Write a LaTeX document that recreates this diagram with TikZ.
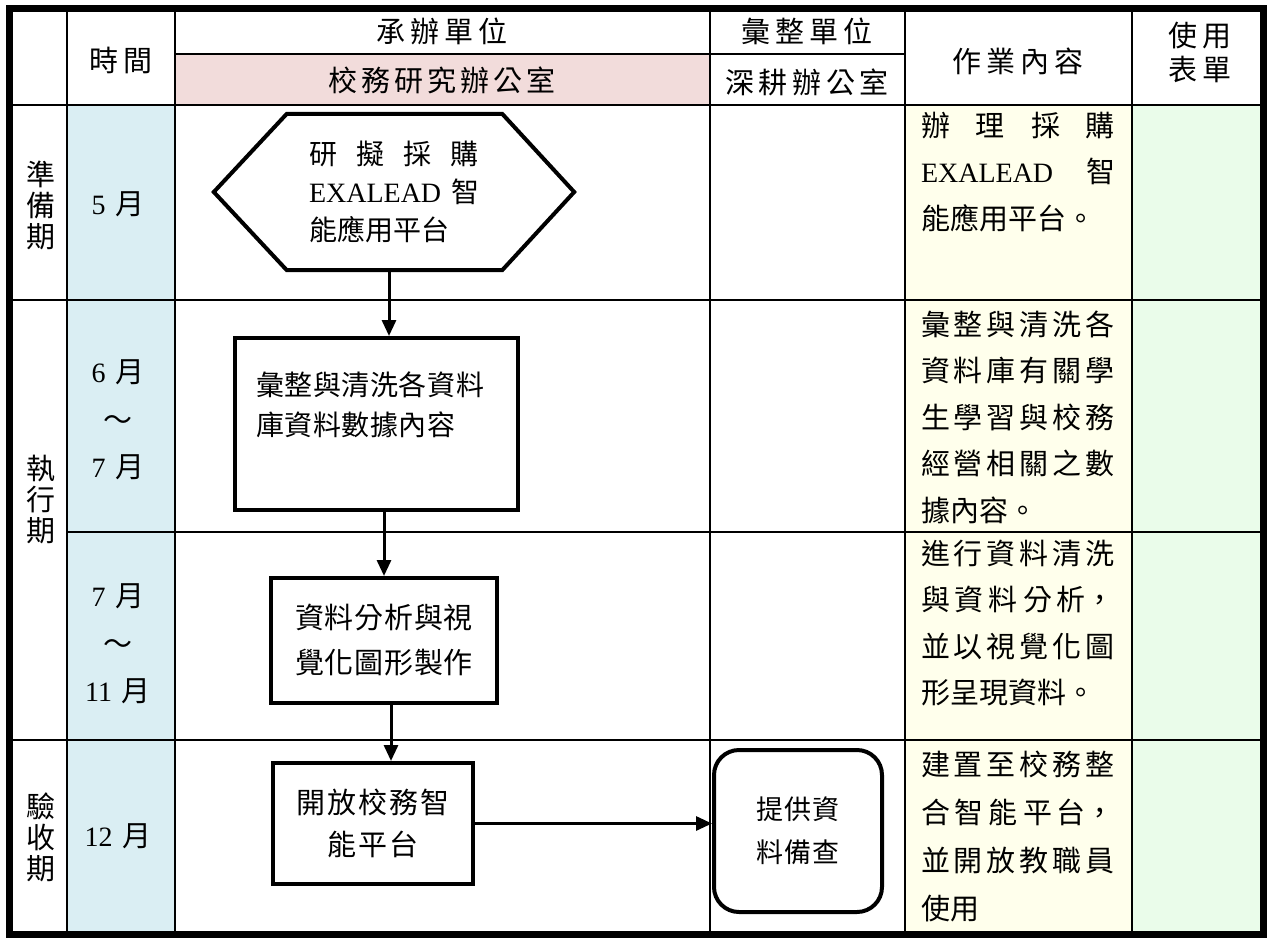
\documentclass[tikz,border=0pt]{standalone}
\usepackage{fontspec}
\setmainfont{Noto Sans CJK TC}
\newfontfamily\enfont{Liberation Serif}
\usetikzlibrary{arrows.meta}
\XeTeXlinebreaklocale "zh"
\XeTeXlinebreakskip=0pt plus 1pt
\definecolor{HeadPink}{RGB}{242,220,219}
\definecolor{TimeBlue}{RGB}{218,238,243}
\definecolor{NoteYellow}{RGB}{255,255,236}
\definecolor{FormGreen}{RGB}{234,252,234}
\newcommand\en[1]{{\enfont\fontsize{28}{30}\selectfont #1}}
\newcommand\exa{{\enfont\fontsize{28}{30}\selectfont EXALEAD}}
\newcommand\cellfont[1]{\fontsize{29}{#1}\selectfont}
\tikzset{
  gridline/.style={line width=2.5pt},
  headtext/.style={font={\cellfont{34}\XeTeXlinebreakskip=3.5pt plus 1pt},
    text width=300pt, align=center, inner sep=0pt},
  phasetext/.style={font=\cellfont{31}, text width=34pt, align=center, inner sep=0pt},
  timetext/.style={font=\cellfont{47.5}, text width=80pt, align=center, inner sep=0pt},
  notetext/.style={font=\cellfont{46.5}, text width=194pt, align=justify, inner sep=0pt},
  flowline/.style={line width=4pt, line join=miter},
  hexbox/.style={minimum width=360pt, minimum height=156pt, inner sep=0pt,
    text width=170pt, align=justify, font={\fontsize{28}{38}\selectfont}},
  flowbox/.style={draw, line width=4pt, inner sep=0pt,
    font={\cellfont{45}\XeTeXlinebreakskip=0.5pt plus 1pt}},
  flowarrow/.style={line width=3pt, -{Triangle[length=16pt,width=14pt]}}
}
\begin{document}
\begin{tikzpicture}[x=1pt,y=-1pt]
\useasboundingbox (0,0) rectangle (1267,938);
% shading of the cells
\fill[HeadPink] (175,54) rectangle (710,105);
\fill[TimeBlue] (67,105) rectangle (175,935);
\fill[NoteYellow] (905,105) rectangle (1132,935);
\fill[FormGreen] (1132,105) rectangle (1262,935);
% table rules
\draw[gridline] (175,54) -- (905,54);
\foreach \y in {105,300,740}
  \draw[gridline] (9,\y) -- (1262,\y);
\draw[gridline] (67,532) -- (1262,532);
\foreach \x in {67,175,710,905,1132}
  \draw[gridline] (\x,8) -- (\x,935);
\draw[line width=7pt] (9.5,8.5) rectangle (1263,934.5);

% header
\node[headtext] (hdtime) at (121,60) {時間};
\node[headtext] (hdowner) at (442,31) {承辦單位};
\node[headtext] (hdoffice) at (442,80) {校務研究辦公室};
\node[headtext] (hdcollect) at (807,31) {彙整單位};
\node[headtext] (hdsprout) at (807,82) {深耕辦公室};
\node[headtext] (hdtask) at (1018,61) {作業內容};
\node[headtext] (hdform) at (1200,52) {使用\\表單};

% phases and months
\node[phasetext] (phprep) at (41,205) {準\\備\\期};
\node[phasetext] (phexec) at (41,500) {執\\行\\期};
\node[phasetext] (phcheck) at (41,837) {驗\\收\\期};
\node[timetext] (tmmay) at (118,204) {\en{5} 月};
\node[timetext] (tmjun) at (118,420) {\en{6} 月\\～\\\en{7} 月};
\node[timetext] (tmjul) at (118,644) {\en{7} 月\\～\\\en{11} 月};
\node[timetext] (tmdec) at (118,836) {\en{12} 月};

% task descriptions
\node[notetext] (ntprep) at (1018,172) {辦理採購\linebreak \exa{} 智\linebreak 能應用平台。};
\node[notetext] (ntexec) at (1018,417) {彙整與清洗各\linebreak 資料庫有關學\linebreak 生學習與校務\linebreak 經營相關之數\linebreak 據內容。};
\node[notetext] (ntanal) at (1018,623) {進行資料清洗\linebreak 與資料分析，\linebreak 並以視覺化圖\linebreak 形呈現資料。};
\node[notetext, font=\cellfont{48}] (ntcheck) at (1018,836) {建置至校務整\linebreak 合智能平台，\linebreak 並開放教職員\linebreak 使用};

% flow
\node[hexbox] (hex) at (394,192) {研擬採購\linebreak \exa{} 智\linebreak 能應用平台};
\draw[flowline] (hex.west) -- ([xshift=73pt]hex.north west) -- ([xshift=-72pt]hex.north east)
  -- (hex.east) -- ([xshift=-72pt]hex.south east) -- ([xshift=73pt]hex.south west) -- cycle;
\node[flowbox, minimum width=283pt, minimum height=172pt, text width=240pt, align=left,
  font={\fontsize{28}{40}\selectfont\XeTeXlinebreakskip=0.5pt plus 1pt}] (clean) at (376.5,424)
  {彙整與清洗各資料\\庫資料數據內容\\\mbox{}};
\node[flowbox, minimum width=226pt, minimum height=125pt, text width=200pt, align=center]
  (analyse) at (384,640.5) {資料分析與視\\覺化圖形製作};
\node[flowbox, minimum width=200pt, minimum height=121pt, text width=180pt, align=center,
  font={\cellfont{42}\XeTeXlinebreakskip=1.6pt plus 1pt}] (portal) at (373,823.5) {開放校務智\\能平台};
\node[flowbox, rounded corners=25pt, minimum width=168pt, minimum height=162pt,
  text width=140pt, align=center, font={\fontsize{27}{43}\selectfont\XeTeXlinebreakskip=0.5pt plus 1pt}]
  (archive) at (798,831) {提供資\\料備查};

\path (hex.south) ++(-5,0) coordinate (hexout);
\draw[flowarrow] (hexout) -- (hexout |- clean.north);
\draw[flowarrow] (analyse.north |- clean.south) -- (analyse.north);
\path (analyse.south) ++(7,0) coordinate (anout);
\draw[flowarrow] (anout) -- (anout |- portal.north);
\draw[flowarrow] (portal.east) -- (portal.east -| archive.west);
\end{tikzpicture}
\end{document}
